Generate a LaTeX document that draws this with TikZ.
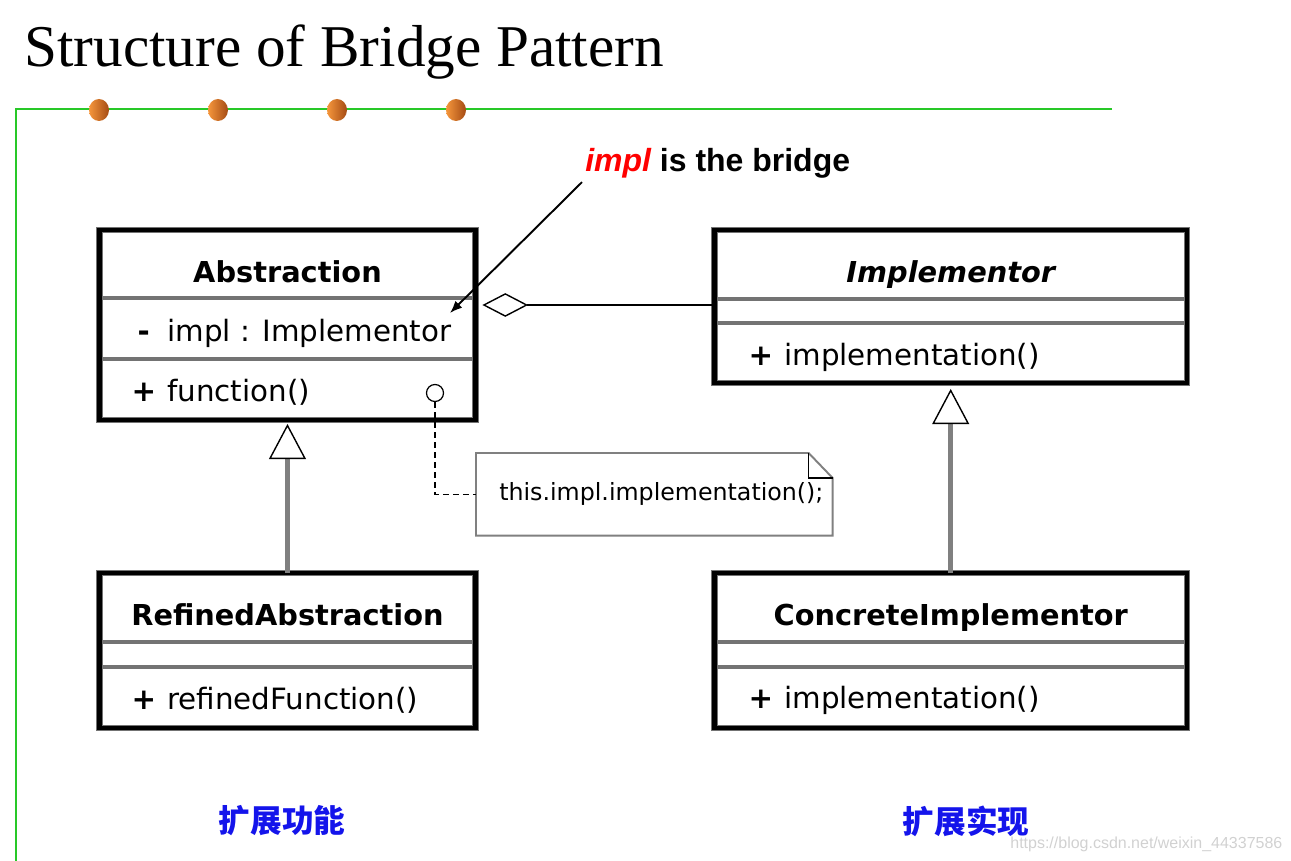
\documentclass[tikz,border=0pt]{standalone}
\usepackage{fontspec}
\setmainfont{Liberation Serif}
\newfontfamily\umlfont{DejaVu Sans}
\newfontfamily\labelfont{Liberation Sans}
\newfontfamily\cjkfont{Noto Sans CJK SC}
\usetikzlibrary{calc,arrows.meta}
\def\vis#1{\makebox[1.6em][c]{\bfseries #1}}
\definecolor{framegreen}{RGB}{40,200,40}
\definecolor{labelblue}{RGB}{20,20,235}
\definecolor{dotlight}{RGB}{245,150,60}
\definecolor{dotdark}{RGB}{165,75,20}
\tikzset{
	umlclass/.style={draw=black!55, double=black, line width=0.55pt, double distance=2.5pt, inner sep=0pt, outer sep=0pt, anchor=north west},
	sepline/.style={line width=1.8pt, color=black!55, shorten <=1.3pt, shorten >=1.3pt},
	classname/.style={font=\umlfont\bfseries\fontsize{16.4}{18}\selectfont, inner sep=0pt, anchor=base},
	member/.style={font=\umlfont\fontsize{16.7}{19}\selectfont, inner sep=0pt, anchor=base west},
	inherit/.style={line width=2.8pt, color=black!50, -{Triangle[fill=white, color=black, line width=0.8pt, length=20pt, width=21pt]}},
	aggregate/.style={line width=0.75pt, -{Diamond[fill=white, color=black, line width=0.8pt, length=26pt, width=13.5pt]}},
	notelink/.style={line width=0.7pt, dash pattern=on 3.4pt off 2.3pt},
	frame/.style={line width=0.8pt, color=framegreen},
	cnlabel/.style={font=\cjkfont\bfseries\fontsize{18}{20}\selectfont, text=labelblue, inner sep=0pt}
}

\begin{document}
\begin{tikzpicture}[x=0.02cm, y=-0.02cm]
	%%%%% START %%%%%
	\useasboundingbox (0,0) rectangle (1291,861);
	
	\node[anchor=base west, inner sep=0pt, font=\fontsize{33.7}{40}\selectfont] (title) at (24,67) {Structure of Bridge Pattern};
	
	\draw[frame] (1112,109) -- (16,109) -- (16,861);
	\foreach \x in {99,218,337,456}
		\shade[left color=dotlight, right color=dotdark] (\x,110) ellipse (10 and 11);
	
	% classes
	\node[umlclass, minimum width=7.52cm, minimum height=3.8cm] (abs) at (99.5,230) {};
	\draw[sepline] (abs.west |- 0,298) -- (abs.east |- 0,298);
	\draw[sepline] (abs.west |- 0,359) -- (abs.east |- 0,359);
	\node[classname] (absname) at (287.5,283) {Abstraction};
	\node[member] (absattr) at (120,342) {\vis{-}impl : Implementor};
	\node[member] (absop) at (120,401) {\vis{+}function()};
	
	\node[umlclass, minimum width=9.45cm, minimum height=3.06cm] (implr) at (714.5,230) {};
	\draw[sepline] (implr.west |- 0,299) -- (implr.east |- 0,299);
	\draw[sepline] (implr.west |- 0,323) -- (implr.east |- 0,323);
	\node[classname, font=\umlfont\bfseries\itshape\fontsize{16.4}{18}\selectfont] (implrname) at (950.75,283) {Implementor};
	\node[member] (implrop) at (737,366) {\vis{+}implementation()};
	
	\node[umlclass, minimum width=7.52cm, minimum height=3.1cm] (refabs) at (99.5,573) {};
	\draw[sepline] (refabs.west |- 0,642) -- (refabs.east |- 0,642);
	\draw[sepline] (refabs.west |- 0,667) -- (refabs.east |- 0,667);
	\node[classname] (refabsname) at (287.5,625) {RefinedAbstraction};
	\node[member] (refabsop) at (120,709) {\vis{+}refinedFunction()};
	
	\node[umlclass, minimum width=9.45cm, minimum height=3.1cm] (concimpl) at (714.5,573) {};
	\draw[sepline] (concimpl.west |- 0,642) -- (concimpl.east |- 0,642);
	\draw[sepline] (concimpl.west |- 0,667) -- (concimpl.east |- 0,667);
	\node[classname] (concimplname) at (950.75,625) {ConcreteImplementor};
	\node[member] (concimplop) at (737,708) {\vis{+}implementation()};
	
	% relations
	\draw[inherit] (refabs.north) -- ($(abs.south)+(0,4)$);
	\draw[inherit] (concimpl.north) -- ($(implr.south)+(0,6)$);
	\draw[aggregate] (implr.west |- 0,305) -- ($(abs.east |- 0,305)+(7,0)$);
	
	% note
	\node[circle, draw, fill=white, line width=0.7pt, inner sep=0pt, minimum size=0.34cm] (opdot) at (435,393) {};
	\node[inner sep=0pt, minimum width=7.12cm, minimum height=1.64cm, anchor=north west, font=\umlfont\fontsize{13.5}{16}\selectfont] (note) at (476,453) {\hspace*{8pt}this.impl.implementation();};
	\draw[line width=1.1pt, color=black!50] (note.south west) -- (note.north west) -- ($(note.north east)+(-24,0)$) -- ($(note.north east)+(0,25)$) -- (note.south east) -- cycle;
	\draw[line width=0.7pt] ($(note.north east)+(-24,0)$) -- ($(note.north east)+(-24,25)$) -- ($(note.north east)+(0,25)$);
	\draw[notelink] (opdot.south) |- (note.west);
	
	% bridge label
	\node[anchor=base west, inner sep=0pt, font=\labelfont\bfseries\fontsize{18.2}{21}\selectfont] (bridge) at (585,172) {\textcolor{red}{\itshape impl} is the bridge};
	\coordinate (bridgetip) at (450,313);
	\draw[line width=1.1pt, -{Latex[length=7pt, width=5.5pt]}] ($(bridge.south west)+(-3,3)$) -- (bridgetip);
	
	% labels
	\node[cnlabel] (leftlabel) at (282,821) {扩展功能};
	\node[cnlabel] (rightlabel) at (966,821) {扩展实现};
	\node[anchor=base west, inner sep=0pt, font=\labelfont\fontsize{9.1}{10}\selectfont, text=black!18] (mark) at (1010,848) {https://blog.csdn.net/weixin\_44337586};
	
	%%%%% END %%%%%
\end{tikzpicture}
\end{document}
